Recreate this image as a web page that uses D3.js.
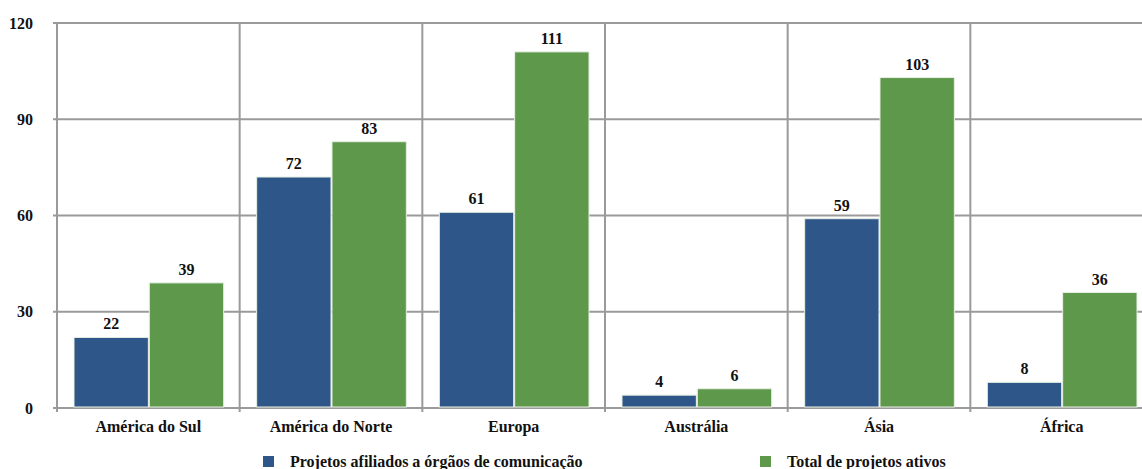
<!DOCTYPE html>
<html>
<head>
<meta charset="utf-8">
<script src="https://cdn.jsdelivr.net/npm/d3@7"></script>
<style>
  body { margin: 0; background: #fff; overflow: hidden; }
  text { font-family: "Liberation Serif", "Times New Roman", serif; font-weight: bold; fill: #111; }
</style>
</head>
<body>
<svg id="chart"></svg>
<script>
const width = 1142;
const height = 469;

const regions = ["América do Sul", "América do Norte", "Europa", "Austrália", "Ásia", "África"];
const afiliados = [22, 72, 61, 4, 59, 8];
const totais = [39, 83, 111, 6, 103, 36];
const seriesNames = ["Projetos afiliados a órgãos de comunicação", "Total de projetos ativos"];
const yTicks = [0, 30, 60, 90, 120];

const colors = ["#2e5689", "#5e984a"];

const plot = { left: 57, top: 23, right: 1153, bottom: 408 };

const svg = d3.select("#chart")
  .attr("width", width)
  .attr("height", height);

const x = d3.scaleBand()
  .domain(regions)
  .range([plot.left, plot.right]);

const xInner = d3.scaleBand()
  .domain([0, 1])
  .range([17, x.bandwidth() - 16])
  .paddingInner(0.013);

const y = d3.scaleLinear()
  .domain([0, 120])
  .range([plot.bottom, plot.top]);

/* grid */
svg.append("g")
  .selectAll("line")
  .data(yTicks)
  .join("line")
  .attr("x1", plot.left - 4)
  .attr("x2", plot.right)
  .attr("y1", d => y(d))
  .attr("y2", d => y(d))
  .attr("stroke", "#9a9a9a")
  .attr("stroke-width", 2);

const bounds = regions.map(r => x(r)).concat([plot.right]);
svg.append("g")
  .selectAll("line")
  .data(bounds)
  .join("line")
  .attr("x1", d => d)
  .attr("x2", d => d)
  .attr("y1", plot.top)
  .attr("y2", plot.bottom + 4)
  .attr("stroke", "#9a9a9a")
  .attr("stroke-width", 2);

/* y labels */
svg.append("g")
  .selectAll("text")
  .data(yTicks)
  .join("text")
  .attr("x", 33)
  .attr("y", d => y(d))
  .attr("dy", "0.35em")
  .attr("text-anchor", "end")
  .style("font-size", "16px")
  .text(d => d);

/* bars */
const series = [afiliados, totais];
const groups = svg.append("g")
  .selectAll("g")
  .data(regions)
  .join("g")
  .attr("transform", d => `translate(${x(d)},0)`);

groups.selectAll("rect")
  .data((d, i) => series.map((s, k) => ({ k, v: s[i] })))
  .join("rect")
  .attr("x", d => xInner(d.k))
  .attr("width", xInner.bandwidth())
  .attr("y", d => y(d.v))
  .attr("height", d => y(0) - y(d.v) - 1)
  .attr("fill", d => colors[d.k])
  .attr("stroke", "#e8efe4")
  .attr("stroke-width", 1);

groups.selectAll("text.val")
  .data((d, i) => series.map((s, k) => ({ k, v: s[i] })))
  .join("text")
  .attr("class", "val")
  .attr("x", d => xInner(d.k) + xInner.bandwidth() / 2)
  .attr("y", d => y(d.v) - 8)
  .attr("text-anchor", "middle")
  .style("font-size", "16px")
  .text(d => d.v);

/* x labels */
svg.append("g")
  .selectAll("text")
  .data(regions)
  .join("text")
  .attr("x", d => x(d) + x.bandwidth() / 2)
  .attr("y", 432)
  .attr("text-anchor", "middle")
  .style("font-size", "16px")
  .text(d => d);

/* legend */
const legendX = [263, 760];
const legend = svg.append("g")
  .selectAll("g")
  .data(seriesNames)
  .join("g")
  .attr("transform", (d, i) => `translate(${legendX[i]},456)`);

legend.append("rect")
  .attr("width", 11)
  .attr("height", 11)
  .attr("fill", (d, i) => colors[i]);

legend.append("text")
  .attr("x", 27)
  .attr("y", 11)
  .style("font-size", "16px")
  .text(d => d);
</script>
</body>
</html>
